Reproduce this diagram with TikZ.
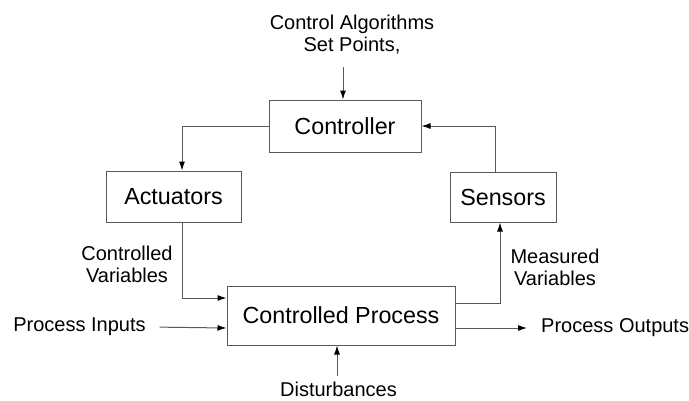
\documentclass[tikz,border=0pt]{standalone}
\usepackage{fontspec}
\setmainfont{Liberation Sans}
\usetikzlibrary{arrows.meta}
\begin{document}
\begin{tikzpicture}[x=1pt, y=-1pt,
        >={Latex[length=9pt,width=6pt,color=black]},
        block/.style={rectangle, draw=black!65, line width=1pt, font=\fontsize{23.3}{26}\selectfont},
        lbl/.style={align=center, font=\fontsize{20}{22}\selectfont},
        link/.style={->, draw=black!65, line width=1pt}
    ]
    \useasboundingbox (0,0) rectangle (689,400);
    % boxes
    \node[block, minimum width=152pt, minimum height=52pt] (ctrl) at (345,126) {Controller};
    \node[block, minimum width=135pt, minimum height=51pt] (act) at (173.5,196.5) {Actuators};
    \node[block, minimum width=106pt, minimum height=50pt] (sens) at (503,197) {Sensors};
    \node[block, minimum width=228pt, minimum height=59pt] (proc) at (341,315.5) {Controlled Process};
    % labels
    \node[lbl] (algo) at (352,35) {Control Algorithms\\Set Points,};
    \node[lbl] (cvar) at (127,264.5) {Controlled\\Variables};
    \node[lbl] (mvar) at (555,267) {Measured\\Variables};
    \node[lbl] (inp) at (79.5,327) {Process Inputs};
    \node[lbl, anchor=west] (outp) at (537.7,328) {Process Outputs};
    \node[lbl, inner sep=1pt] (dist) at (338.5,389) {Disturbances};
    \coordinate (algoin) at (343,67);
    \coordinate (distin) at (337,376);
    % connectors
    \draw[link] (algoin) -- (algoin |- ctrl.north);
    \draw[link] (ctrl.west) -| ([xshift=8.5pt]act.north);
    \draw[link] ([xshift=-8pt]sens.north) |- (ctrl.east);
    \draw[link] ([xshift=8.5pt]act.south) |- ([yshift=17.5pt]proc.west);
    \draw[link, shorten <=10.5pt] (inp.east) -- ([yshift=-12.5pt]proc.west);
    \draw[link] ([yshift=12.5pt]proc.east) -| ([xshift=-3pt]sens.south);
    \draw[link, shorten >=10.7pt] ([yshift=-12.5pt]proc.east) -- (outp.west);
    \draw[link] (distin) -- (distin |- proc.south);
\end{tikzpicture}
\end{document}
